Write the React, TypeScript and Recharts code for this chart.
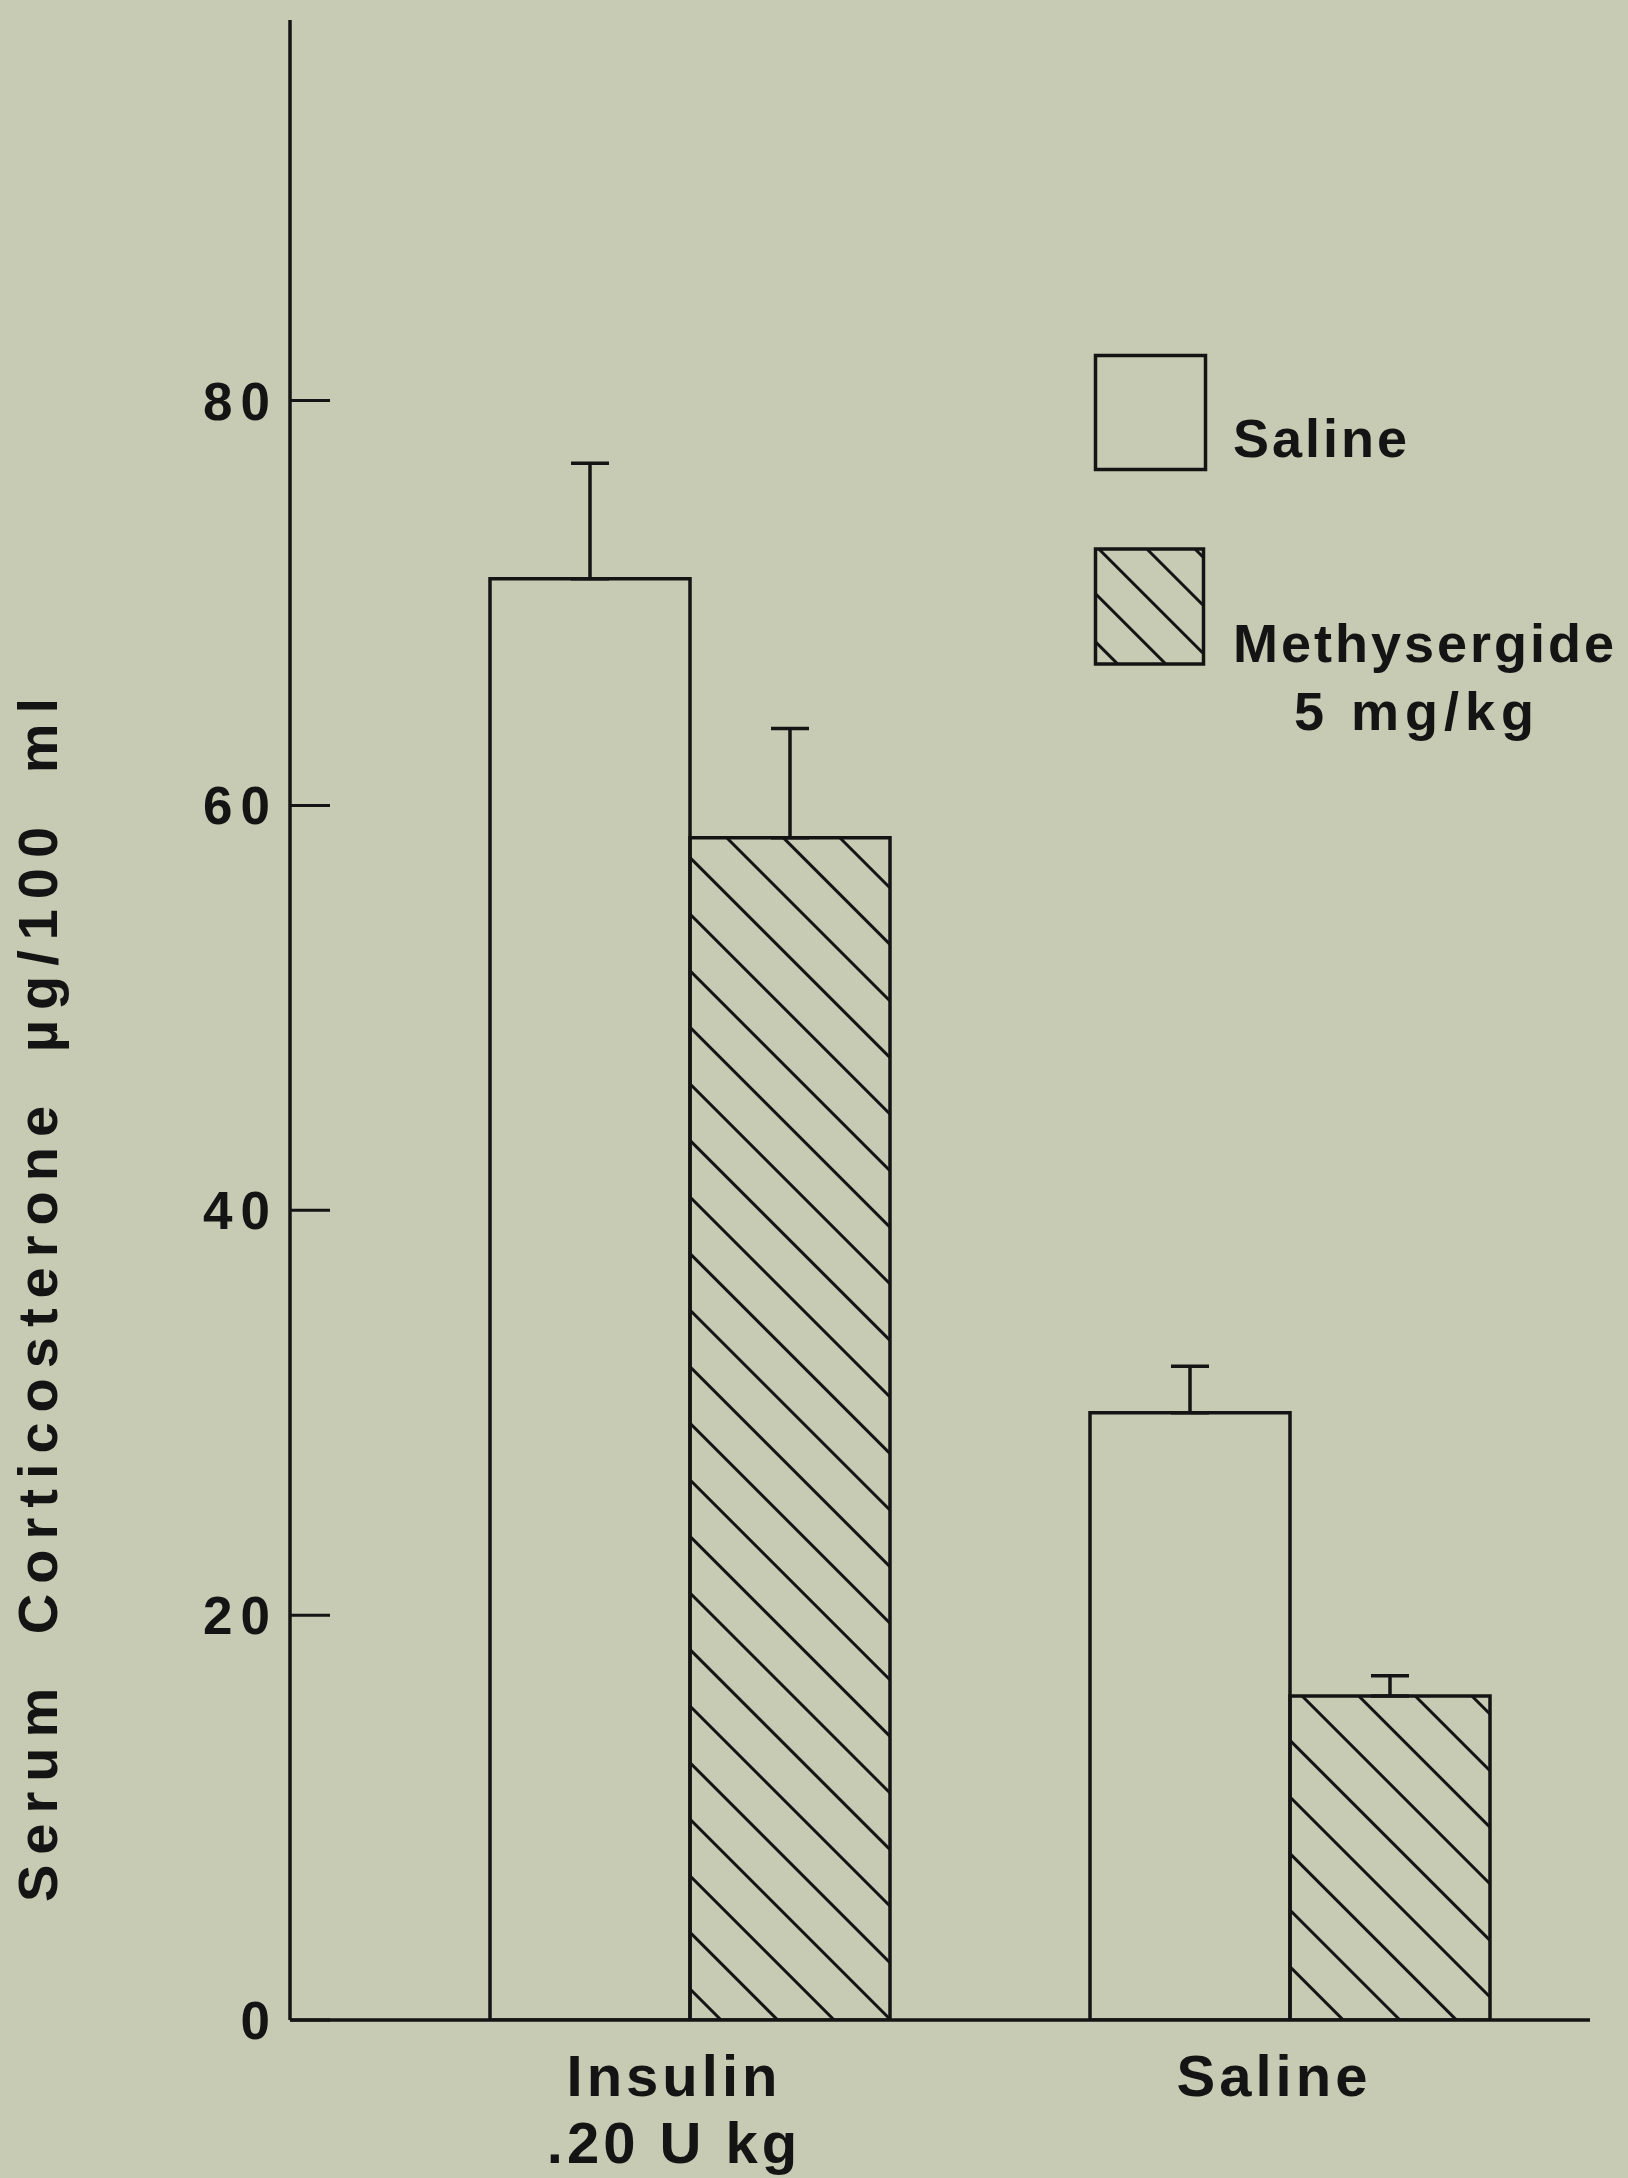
import React from 'react';
import { BarChart, Bar, XAxis, YAxis, ErrorBar, Legend } from 'recharts';

// Treatment groups along the x axis
const groups = ['Insulin', 'Saline'];
const groupDoses = ['.20 U kg', ''];

// Serum corticosterone (µg/100 ml), mean and SE
const salineMeans = [71.2, 30.0];
const salineErrors = [5.7, 2.3];
const methysergideMeans = [58.4, 16.0];
const methysergideErrors = [5.4, 1.0];

const methysergideDose = '5 mg/kg';
const yTicks = [0, 20, 40, 60, 80];
const yLabel = 'Serum Corticosterone µg/100 ml';

const data = groups.map((group, i) => ({
  group,
  dose: groupDoses[i],
  saline: salineMeans[i],
  salineErr: [0, salineErrors[i]],
  methysergide: methysergideMeans[i],
  methysergideErr: [0, methysergideErrors[i]],
}));

const INK = '#141414';
const PAPER = '#c8cbb3';
const FONT = '"Liberation Sans", Arial, Helvetica, sans-serif';
const LINE = 3.5;

const ValueTick = (props: any) => {
  const { x, y, payload } = props;
  return (
    <g>
      <line x1={x} x2={x + 40} y1={y} y2={y} stroke={INK} strokeWidth={3} />
      <text
        x={x - 12}
        y={y + 19}
        textAnchor="end"
        fontFamily={FONT}
        fontWeight="bold"
        fontSize={53}
        letterSpacing={8}
        fill={INK}
      >
        {payload.value}
      </text>
    </g>
  );
};

const GroupTick = (props: any) => {
  const { x, y, payload, index } = props;
  const dose = groupDoses[index];
  return (
    <g>
      <text
        x={x - 16}
        y={y + 76}
        textAnchor="middle"
        fontFamily={FONT}
        fontWeight="bold"
        fontSize={58}
        letterSpacing={4}
        fill={INK}
      >
        {payload.value}
      </text>
      {dose ? (
        <text
          x={x - 16}
          y={y + 143}
          textAnchor="middle"
          fontFamily={FONT}
          fontWeight="bold"
          fontSize={58}
          letterSpacing={4}
          fill={INK}
        >
          {dose}
        </text>
      ) : null}
    </g>
  );
};

const AxisTitle = (props: any) => {
  const { viewBox } = props;
  const cx = viewBox.x + 57;
  const cy = viewBox.y + viewBox.height / 2 + 275;
  return (
    <text
      x={cx}
      y={cy}
      transform={`rotate(-90, ${cx}, ${cy})`}
      textAnchor="middle"
      fontFamily={FONT}
      fontWeight="bold"
      fontSize={56}
      letterSpacing={10}
      wordSpacing={18}
      fill={INK}
    >
      {yLabel}
    </text>
  );
};

const KeyBox = (props: any) => {
  const { payload } = props;
  const nameOf = (key: string) => {
    const entry = (payload || []).find((p: any) => p.dataKey === key);
    return entry ? entry.value : '';
  };
  const textProps = {
    fontFamily: FONT,
    fontWeight: 'bold' as const,
    fontSize: 54,
    letterSpacing: 3,
    fill: INK,
  };
  return (
    <svg width={540} height={400} style={{ overflow: 'visible' }}>
      <defs>
        <pattern
          id="keyHatch"
          patternUnits="userSpaceOnUse"
          width={34}
          height={34}
          patternTransform="rotate(-45)"
        >
          <rect x={0} y={0} width={3} height={34} fill={INK} />
        </pattern>
      </defs>
      <rect x={1.5} y={1.5} width={110} height={114} fill="none" stroke={INK} strokeWidth={LINE} />
      <text x={139} y={103} {...textProps}>
        {nameOf('saline')}
      </text>
      <rect x={1.5} y={195} width={108} height={115} fill="url(#keyHatch)" stroke={INK} strokeWidth={LINE} />
      <text x={139} y={308} {...textProps}>
        {nameOf('methysergide')}
      </text>
      <text x={200} y={376} {...textProps} letterSpacing={6}>
        {methysergideDose}
      </text>
    </svg>
  );
};

export default function App() {
  return (
    <div
      style={{
        position: 'absolute',
        left: 0,
        top: 0,
        width: 1628,
        height: 2178,
        background: PAPER,
      }}
    >
      <BarChart
        width={1628}
        height={2178}
        data={data}
        margin={{ top: 20, right: 38, left: 0, bottom: 0 }}
        barGap={0}
        barSize={200}
      >
        <defs>
          <pattern
            id="barHatch"
            patternUnits="userSpaceOnUse"
            width={40}
            height={40}
            patternTransform="rotate(-45)"
          >
            <rect x={0} y={0} width={3} height={40} fill={INK} />
          </pattern>
        </defs>
        <XAxis
          dataKey="group"
          height={158}
          interval={0}
          padding={{ left: 100, right: 0 }}
          axisLine={{ stroke: INK, strokeWidth: LINE }}
          tickLine={false}
          tickSize={0}
          tickMargin={0}
          tick={<GroupTick />}
        />
        <YAxis
          width={290}
          type="number"
          domain={[0, 98.8]}
          allowDataOverflow
          ticks={yTicks}
          interval={0}
          axisLine={{ stroke: INK, strokeWidth: LINE }}
          tickLine={false}
          tickSize={0}
          tickMargin={0}
          tick={<ValueTick />}
          label={<AxisTitle />}
        />
        <Legend
          layout="vertical"
          align="center"
          verticalAlign="middle"
          wrapperStyle={{ left: 1094, top: 354, width: 540, height: 400 }}
          content={<KeyBox />}
        />
        <Bar
          dataKey="saline"
          name="Saline"
          fill="none"
          stroke={INK}
          strokeWidth={LINE}
          isAnimationActive={false}
        >
          <ErrorBar dataKey="salineErr" direction="y" width={19} stroke={INK} strokeWidth={LINE} />
        </Bar>
        <Bar
          dataKey="methysergide"
          name="Methysergide"
          fill="url(#barHatch)"
          stroke={INK}
          strokeWidth={LINE}
          isAnimationActive={false}
        >
          <ErrorBar dataKey="methysergideErr" direction="y" width={19} stroke={INK} strokeWidth={LINE} />
        </Bar>
      </BarChart>
    </div>
  );
}
